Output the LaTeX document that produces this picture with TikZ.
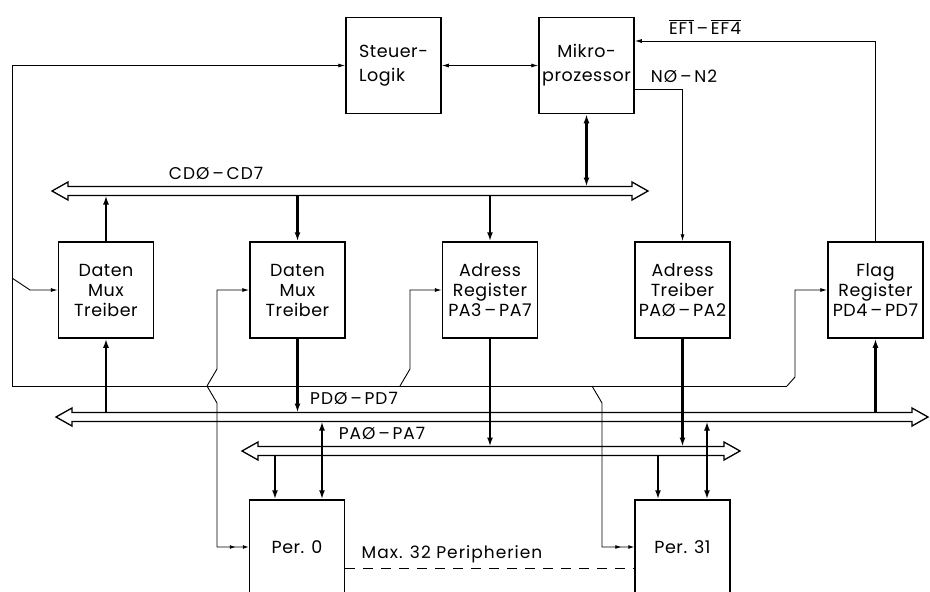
\documentclass[tikz,border=0pt]{standalone}
\usepackage{fontspec}
\setmainfont{Poppins}
\usetikzlibrary{arrows.meta}

% waagrechter Bus als Doppelpfeil: #1 = y, #2 = linke Spitze, #3 = rechte Spitze
\newcommand{\hbus}[3]{%
  \draw[bus] (#2,#1) -- (#2+16,#1-9) -- (#2+16,#1-4.5) -- (#3-16,#1-4.5)
    -- (#3-16,#1-9) -- (#3,#1) -- (#3-16,#1+9) -- (#3-16,#1+4.5)
    -- (#2+16,#1+4.5) -- (#2+16,#1+9) -- cycle;}

\tikzset{
  block/.style={draw, line width=1.5pt, minimum width=95pt, minimum height=96pt,
                align=center, inner sep=2pt},
  lab/.style={font=\fontsize{17}{20}\selectfont\addfontfeatures{LetterSpace=6}},
  sig/.style={line width=0.9pt, >={Latex[length=7pt,width=4pt]}},
  thk/.style={line width=2.4pt, >={Latex[length=9pt,width=6pt]}},
  bus/.style={line width=1.3pt, line join=miter},
  dbl/.style={-{Latex[length=6pt,width=4pt,sep=7pt]Latex[length=6pt,width=4pt]}}
}

\begin{document}
\begin{tikzpicture}[x=1pt, y=-1pt,
  font=\fontsize{17.5}{20}\selectfont\addfontfeatures{LetterSpace=3}]
\useasboundingbox (0,0) rectangle (930,592);
\clip (0,0) rectangle (930,592);

% Steuerung und Prozessor
\node[block, align=left] (steuer) at (393.5,65.5) {Steuer-\\[4pt]Logik};
\node[block] (mikro) at (586.5,65.5) {Mikro-\\[4pt]prozessor};

% mittlere Reihe
\node[block] (daten1) at (106,290) {Daten\\Mux\\Treiber};
\node[block] (daten2) at (297.5,290) {Daten\\Mux\\Treiber};
\node[block] (adrreg) at (490,290) {Adress\\Register\\PA3\,--\,PA7};
\node[block] (adrtr) at (682.5,290) {Adress\\Treiber\\PAØ\,--\,PA2};
\node[block] (flag) at (875.5,290) {Flag\\Register\\PD4\,--\,PD7};

% Peripherie
\node[block, minimum height=100pt] (per0) at (297,550) {\raisebox{5pt}{Per. 0}};
\node[block, minimum height=100pt] (per31) at (682.5,550) {\raisebox{5pt}{Per. 31}};

% Busse
\hbus{191}{52}{648}
\hbus{417}{56}{928}
\hbus{451}{242}{740}
\coordinate (cdo) at (0,186.5);
\coordinate (cdu) at (0,195.5);
\coordinate (pdo) at (0,412.5);
\coordinate (pdu) at (0,421.5);
\coordinate (pao) at (0,446.5);
\coordinate (pau) at (0,455.5);

% Datenwege
\draw[thk,<->] (mikro.south) -- (mikro.south |- cdo);
\draw[thk,->] (daten1.north) -- (daten1.north |- cdu);
\draw[thk,->] (daten2.north |- cdu) -- (daten2.north);
\draw[thk,->] (adrreg.north |- cdu) -- (adrreg.north);
\draw[thk,->] (daten1.south |- pdo) -- (daten1.south);
\draw[thk,->] (daten2.south) -- (daten2.south |- pdo);
\draw[thk,->] (adrreg.south) -- (adrreg.south |- pao);
\draw[thk,->] (adrtr.south) -- (adrtr.south |- pao);
\draw[thk,->] (flag.south |- pdo) -- (flag.south);

\coordinate (p0a) at ([xshift=-22pt]per0.north);
\coordinate (p0d) at ([xshift=25pt]per0.north);
\coordinate (p31a) at ([xshift=-24.5pt]per31.north);
\coordinate (p31d) at ([xshift=24.5pt]per31.north);
\draw[thk,->] (p0a |- pau) -- (p0a);
\draw[thk,<->] (p0d |- pdu) -- (p0d);
\draw[thk,->] (p31a |- pau) -- (p31a);
\draw[thk,<->] (p31d |- pdu) -- (p31d);

% Steuerleitungen
\coordinate (ef) at ([yshift=24.5pt]mikro.east);
\coordinate (nn) at ([yshift=-23.5pt]mikro.east);
\draw[sig,<->] (steuer.east) -- (mikro.west);
\draw[sig,->] (flag.north) |- (ef);
\draw[sig,->] (nn) -| (adrtr.north);

\coordinate (cl) at (12,386);
\coordinate (cr) at (787,386);
\coordinate (k1) at (207,386);
\coordinate (k2) at (400,386);
\coordinate (k3) at (592,386);
\coordinate (p0l) at ([yshift=3pt]per0.west);
\coordinate (p31l) at ([yshift=3pt]per31.west);
\draw[sig] (cl) -- (cr);
\draw[sig,->] (cl) |- (steuer.west);
\draw[sig,->] (cr) -- ++(8,-9) |- (flag.west);
\draw[sig,->] (12,278) -- ++(18,12) -- (daten1.west);
\draw[sig,->] (k1) -- ++(10,-17) |- (daten2.west);
\draw[sig,dbl] (k1) -- ++(10,17) |- (p0l);
\draw[sig,->] (k2) -- ++(10,-17) |- (adrreg.west);
\draw[sig,dbl] (k3) -- ++(10,17) |- (p31l);
\draw[sig, dash pattern=on 10pt off 8pt] ([yshift=-18pt]per0.east) -- ([yshift=-18pt]per31.west);

% Beschriftungen
\node[lab] (cdlab) at (216,173) {CDØ\,--\,CD7};
\node[lab] (eflab) at (705,27) {$\overline{\mbox{EF1}}$\,--\,$\overline{\mbox{EF4}}$};
\node[lab] (nlab) at (684,76) {NØ\,--\,N2};
\node[lab] (pdlab) at (354,398) {PDØ\,--\,PD7};
\node[lab] (palab) at (382,433) {PAØ\,--\,PA7};
\node[lab] (maxlab) at (452,554) {Max. 32 Peripherien};
\end{tikzpicture}
\end{document}
